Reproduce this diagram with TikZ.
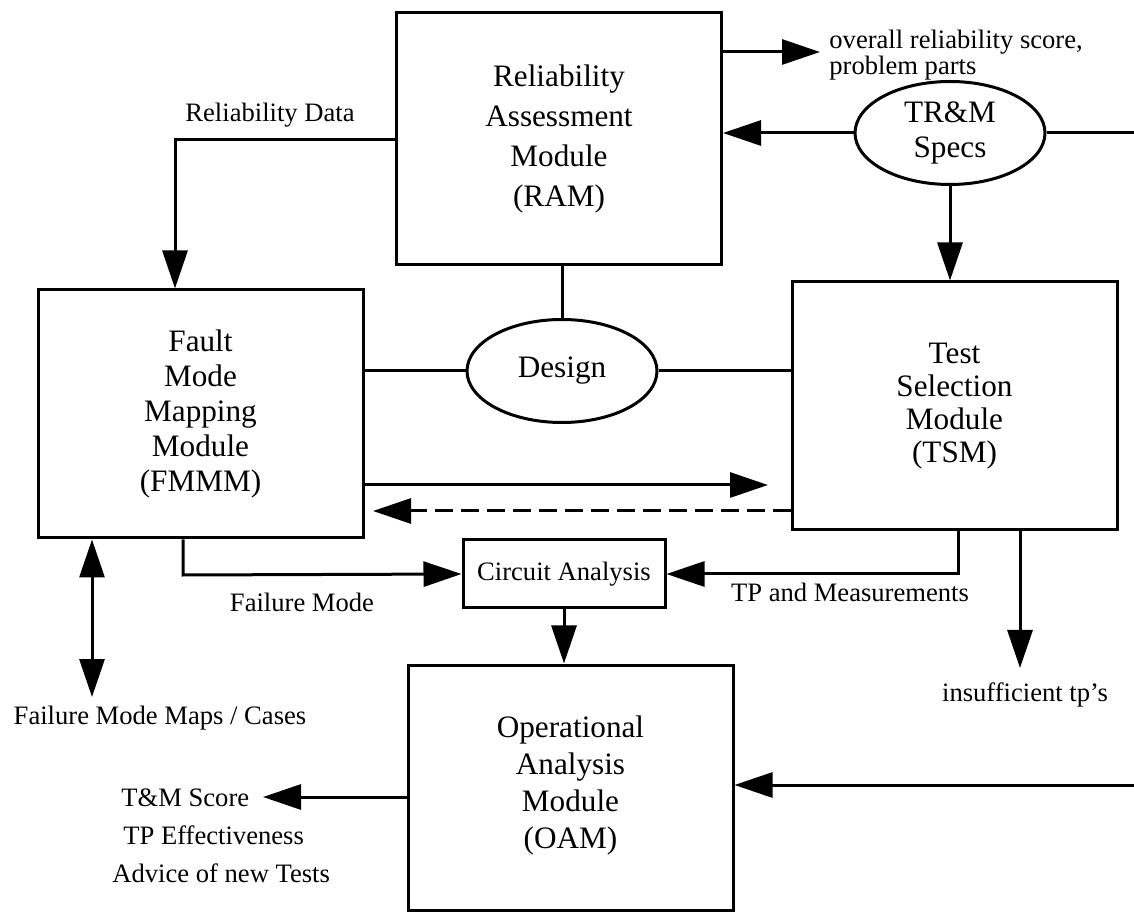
\documentclass[tikz,border=0pt]{standalone}
\usepackage{fontspec}
\setmainfont{Liberation Serif}
\usetikzlibrary{arrows.meta,shapes.geometric}
\tikzset{
	module/.style={
		draw, line width=1.5pt, inner sep=0pt,
		minimum width=162.5pt, minimum height=124pt,
		align=center, font=\fontsize{15.6}{17.5}\selectfont},
	specs/.style={
		draw, ellipse, line width=1.5pt, inner sep=0pt,
		minimum width=95pt, minimum height=51.5pt,
		align=center, font=\fontsize{15.6}{17.5}\selectfont},
	smallbox/.style={
		draw, line width=1.5pt, inner sep=0pt,
		minimum width=101pt, minimum height=34pt,
		font=\fontsize{13.3}{16}\selectfont},
	lbl/.style={inner sep=0pt, font=\fontsize{13.3}{16}\selectfont},
	link/.style={line width=1.5pt},
	flow/.style={line width=1.5pt, -{Triangle[length=19pt,width=12.5pt]}},
	twoway/.style={line width=1.5pt, {Triangle[length=19pt,width=12.5pt]}-{Triangle[length=19pt,width=12.5pt]}}
}

\begin{document}
\begin{tikzpicture}[x=0.5pt,y=0.5pt,yscale=-1]
\useasboundingbox (0,0) rectangle (1134,913);

% modules
\node[module, minimum height=126pt, font=\fontsize{15.6}{20}\selectfont] (RAM) at (559,139) {Reliability\\Assessment\\Module\\(RAM)};
\node[module] (FMMM) at (200.5,414) {Fault\\Mode\\Mapping\\Module\\(FMMM)};
\node[module, font=\fontsize{15.6}{16.5}\selectfont] (TSM) at (954.5,406) {Test\\Selection\\Module\\(TSM)};
\node[module, minimum height=122.5pt, font=\fontsize{15.6}{18.5}\selectfont] (OAM) at (570.5,787.5) {\mbox{}\\[-10pt]Operational\\Analysis\\Module\\(OAM)};
\node[smallbox] (circ) at (564,574) {Circuit Analysis};
\node[specs] (design) at (562,371) {Design};
\node[specs] (specs) at (950,133) {TR\&M\\Specs};

\coordinate (rdata) at (175,140);
\coordinate (scoreR) at (820,52);
\coordinate (specsR) at (1134,133);
\coordinate (fwd) at (768,485);
\coordinate (back) at (373,511);
\coordinate (fmode) at (183,575);
\coordinate (tpm) at (958,574);
\coordinate (insuf) at (1020,668);
\coordinate (maps) at (92,697);
\coordinate (oamR) at (1134,785);
\coordinate (tmS) at (263,797);

% connectors
\draw[flow] (RAM.east |- scoreR) -- (scoreR);
\draw[flow] (specs.west) -- (specs.west -| RAM.east);
\draw[link] (specs.east) -- (specsR);
\draw[flow] (specs.south) -- (specs.south |- TSM.north);
\draw[flow] (rdata -| RAM.west) -- (rdata) -- (rdata |- FMMM.north);
\draw[link] (design.north) -- (design.north |- RAM.south);
\draw[link] (design.west) -- (design.west -| FMMM.east);
\draw[link] (design.east) -- (design.east -| TSM.west);
\draw[flow] (fwd -| FMMM.east) -- (fwd);
\draw[flow, dash pattern=on 9pt off 4pt] (back -| TSM.west) -- (back);
\draw[flow] (fmode |- FMMM.south) -- (fmode) -- (circ.west);
\draw[flow] (tpm |- TSM.south) -- (tpm) -- (circ.east);
\draw[flow] (insuf |- TSM.south) -- (insuf);
\draw[twoway] (maps |- FMMM.south) -- (maps);
\draw[flow] (circ.south) -- (circ.south |- OAM.north);
\draw[flow] (oamR) -- (oamR -| OAM.east);
\draw[flow] (tmS -| OAM.west) -- (tmS);

% labels
\node[lbl, align=left, anchor=west, font=\fontsize{13.3}{11.5}\selectfont] (score) at (829,55) {overall reliability score,\\problem parts};
\node[lbl] (rdlbl) at (270,115) {Reliability Data};
\node[lbl] (fmlbl) at (302,602) {Failure Mode};
\node[lbl] (tplbl) at (850,592) {TP and Measurements};
\node[lbl] (inslbl) at (1025,695) {insufficient tp's};
\node[lbl] (mapslbl) at (160,718) {Failure Mode Maps / Cases};
\node[lbl, anchor=west] (tmlbl) at (121,798) {T\&M Score};
\node[lbl, anchor=west] (tpelbl) at (123,835) {TP Effectiveness};
\node[lbl, anchor=west] (advlbl) at (112,873) {Advice of new Tests};

\end{tikzpicture}
\end{document}
